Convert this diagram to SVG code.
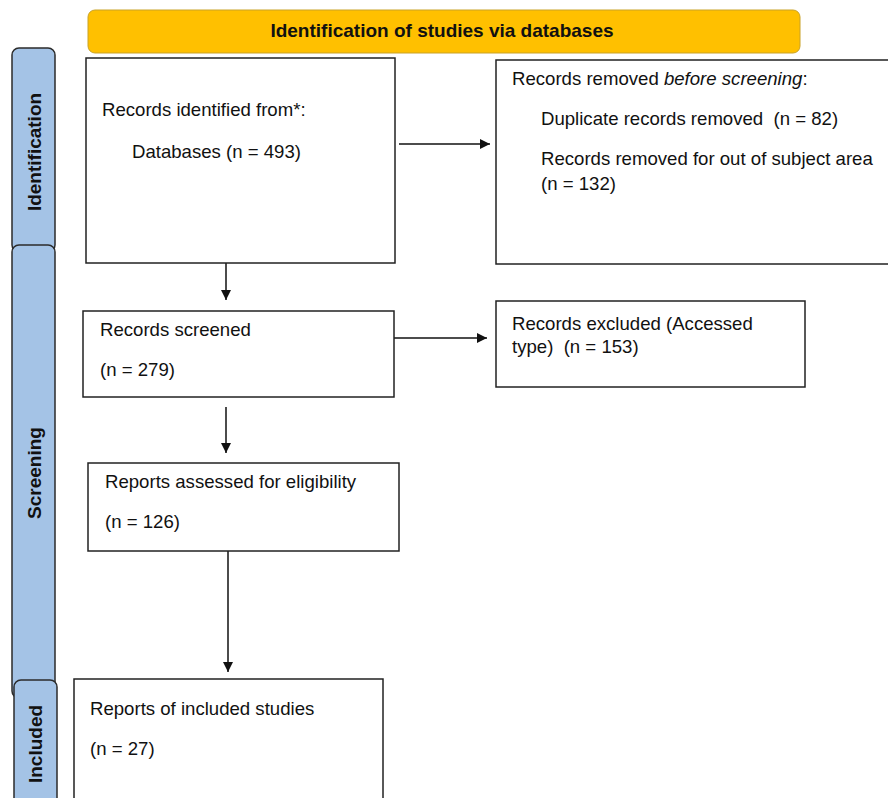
<svg xmlns="http://www.w3.org/2000/svg" width="888" height="798" viewBox="0 0 888 798">
<defs>
<style>
.box{fill:#fff;stroke:#222;stroke-width:1.5}
.side{fill:#A4C3E6;stroke:#2b2b2b;stroke-width:1.5}
.hdr{fill:#FFC000;stroke:#C9A227;stroke-width:1}
.t{font-family:"Liberation Sans",Arial,sans-serif;font-size:18.6px;fill:#111;white-space:pre}
.b{font-family:"Liberation Sans",Arial,sans-serif;font-size:19px;font-weight:bold;fill:#111}
.c{stroke:#111;stroke-width:1.5;fill:none;marker-end:url(#ah)}
</style>
<marker id="ah" viewBox="0 0 10 10" refX="10" refY="5" markerWidth="10" markerHeight="10" markerUnits="userSpaceOnUse" orient="auto">
<path d="M0,0 L10,5 L0,10 z" fill="#111"/>
</marker>
</defs>
<rect width="888" height="798" fill="#fff"/>
<g id="header">
<rect class="hdr" x="88" y="10" width="712" height="43" rx="7"/>
<text class="b" x="442" y="37" text-anchor="middle">Identification of studies via databases</text>
</g>
<g id="side-identification">
<rect class="side" x="12" y="48" width="43" height="204" rx="7"/>
<text class="b" transform="translate(41,152) rotate(-90)" text-anchor="middle">Identification</text>
</g>
<g id="side-screening">
<rect class="side" x="12" y="245" width="43" height="453" rx="7"/>
<text class="b" transform="translate(41,473) rotate(-90)" text-anchor="middle">Screening</text>
</g>
<g id="side-included">
<rect class="side" x="14" y="680" width="43" height="130" rx="7"/>
<text class="b" transform="translate(42,744) rotate(-90)" text-anchor="middle">Included</text>
</g>
<g id="connectors">
<line class="c" x1="399" y1="144" x2="490" y2="144"/>
<line class="c" x1="226" y1="254" x2="226" y2="300"/>
<line class="c" x1="394" y1="338" x2="487" y2="338"/>
<line class="c" x1="226" y1="407" x2="226" y2="453"/>
<line class="c" x1="228" y1="551" x2="228" y2="672"/>
</g>
<g id="identified">
<rect class="box" x="86" y="58" width="309" height="205"/>
<text class="t" x="102" y="116">Records identified from*:</text>
<text class="t" x="132" y="158">Databases (n = 493)</text>
</g>
<g id="removed">
<rect class="box" x="496" y="60" width="400" height="204"/>
<text class="t" x="512" y="85">Records removed <tspan font-style="italic">before screening</tspan>:</text>
<text class="t" x="541" y="125">Duplicate records removed  (n = 82)</text>
<text class="t" x="541" y="165">Records removed for out of subject area</text>
<text class="t" x="541" y="190">(n = 132)</text>
</g>
<g id="screened">
<rect class="box" x="83" y="311" width="311" height="86"/>
<text class="t" x="100" y="336">Records screened</text>
<text class="t" x="100" y="376">(n = 279)</text>
</g>
<g id="excluded">
<rect class="box" x="496" y="301" width="309" height="86"/>
<text class="t" x="512" y="330">Records excluded (Accessed</text>
<text class="t" x="512" y="353">type)  (n = 153)</text>
</g>
<g id="assessed">
<rect class="box" x="88" y="463" width="311" height="88"/>
<text class="t" x="105" y="488">Reports assessed for eligibility</text>
<text class="t" x="105" y="528">(n = 126)</text>
</g>
<g id="included">
<rect class="box" x="74" y="679" width="309" height="130"/>
<text class="t" x="90" y="715">Reports of included studies</text>
<text class="t" x="90" y="755">(n = 27)</text>
</g>
</svg>
